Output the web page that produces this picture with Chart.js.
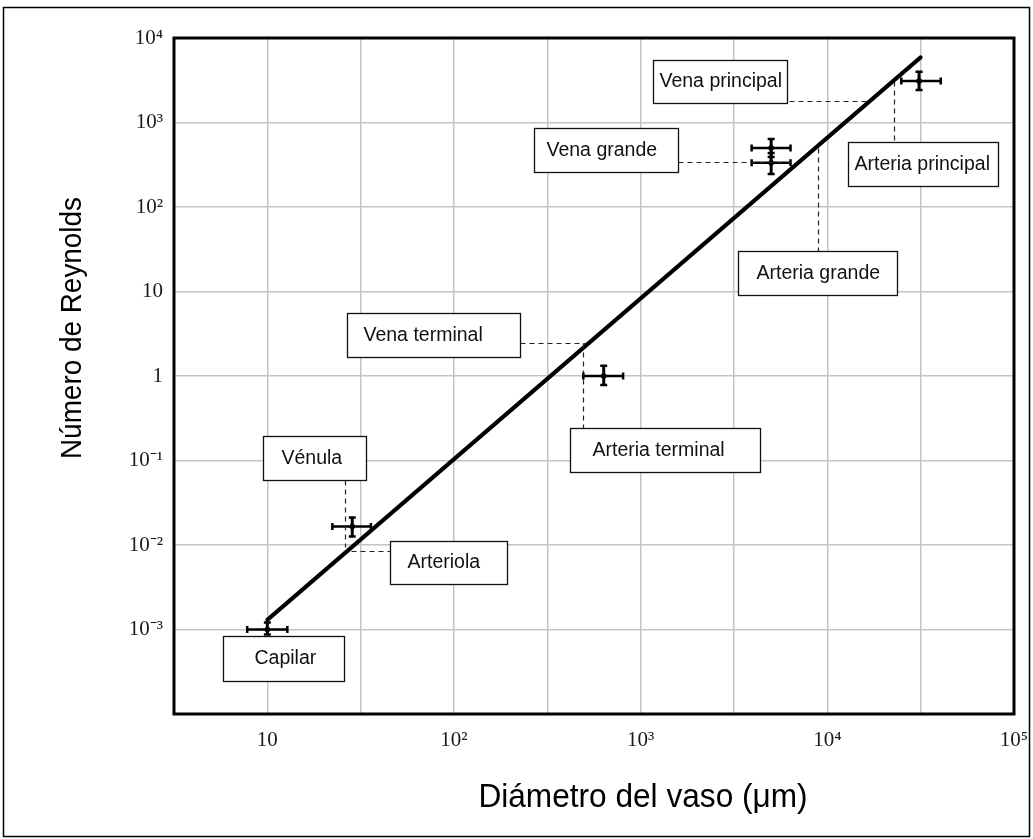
<!DOCTYPE html>
<html>
<head>
<meta charset="utf-8">
<script src="https://cdn.jsdelivr.net/npm/chart.js@4.4.1/dist/chart.umd.min.js"></script>
<style>
  html, body { margin: 0; padding: 0; background: #fff; }
  canvas { display: block; }
</style>
</head>
<body>
<canvas id="grafico" width="1033" height="839"></canvas>
<script>
// Vasos sanguíneos: diámetro (µm) frente al número de Reynolds, con barras de error
const diametro    = [10,    28.5,   634,  5000, 5000, 31000];
const diametroMin = [7.8,   22.3,   493,  3930, 3930, 24900];
const diametroMax = [12.8,  35.9,   805,  6350, 6350, 40500];
const reynolds    = [0.001, 0.0166, 1,    500,  333,  3100];
const reynoldsMin = [0.00087, 0.0126, 0.78, 391, 245, 2430];
const reynoldsMax = [0.00121, 0.0211, 1.32, 638, 436, 4000];

// Recta de ajuste (Re crece aproximadamente como d^1.9)
const ajusteDiametro = [10, 31600];
const ajusteReynolds = [0.0013, 5900];

// Marcas de los ejes: exponentes de 10 y sus rótulos
const exponentesX = [0.5, 1, 1.5, 2, 2.5, 3, 3.5, 4, 4.5, 5];
const rotulosX    = ['', '10', '', '10²', '', '10³', '', '10⁴', '', '10⁵'];
const exponentesY = [-4, -3, -2, -1, 0, 1, 2, 3, 4];
const rotulosY    = ['', '10⁻³', '10⁻²', '10⁻¹', '1', '10', '10²', '10³', '10⁴'];

// Nombres de los vasos que se rotulan en el gráfico
const rotulos = ['Capilar', 'Vénula', 'Arteriola', 'Vena terminal', 'Arteria terminal',
                 'Vena grande', 'Arteria grande', 'Vena principal', 'Arteria principal'];

// Cajas de los rótulos: centro en unidades de los ejes, tamaño y sangría del texto en px
const cajas = [
  { x: 12.25, y: 4.48e-4, w: 121, h: 45, sangria: 31 },
  { x: 17.97, y: 0.108,   w: 103, h: 44, sangria: 18 },
  { x: 93.9,  y: 0.00628, w: 117, h: 43, sangria: 17 },
  { x: 78.0,  y: 3.08,    w: 173, h: 44, sangria: 16 },
  { x: 1358,  y: 0.1344,  w: 190, h: 44, sangria: 22 },
  { x: 655.6, y: 474,     w: 144, h: 44, sangria: 12 },
  { x: 8808,  y: 16.65,   w: 159, h: 44, sangria: 18 },
  { x: 2677,  y: 3060,    w: 134, h: 43, sangria: 6 },
  { x: 32360, y: 323.6,   w: 150, h: 44, sangria: 6 }
];

// Líneas guía discontinuas entre cada caja y la recta: [x1, y1, x2, y2] en unidades de los ejes
const guias = [
  [6194, 1799, 16630, 1799],
  [22630, 3102, 22630, 589],
  [1594, 342, 6754, 342],
  [8862, 500, 8862, 30.3],
  [227, 2.475, 506, 2.475],
  [494, 2.475, 494, 0.2446],
  [26.2, 0.0594, 26.2, 0.00958],
  [28.2, 0.00859, 45.6, 0.00859]
];

const tituloX = 'Diámetro del vaso (μm)';
const tituloY = 'Número de Reynolds';

const SANS = '"Liberation Sans", Arial, sans-serif';
const SERIF = '"Liberation Serif", "Times New Roman", serif';

const puntos = diametro.map((d, i) => ({ x: d, y: reynolds[i] }));
const recta = ajusteDiametro.map((d, i) => ({ x: d, y: ajusteReynolds[i] }));

// Barras de error horizontales y verticales con sus topes
const barrasError = {
  id: 'barrasError',
  afterDatasetsDraw(chart) {
    const { ctx, scales: { x, y } } = chart;
    ctx.save();
    ctx.strokeStyle = '#000';
    ctx.lineCap = 'butt';
    const tope = 3.5;
    diametro.forEach((d, i) => {
      const cx = x.getPixelForValue(d);
      const cy = y.getPixelForValue(reynolds[i]);
      const x0 = x.getPixelForValue(diametroMin[i]);
      const x1 = x.getPixelForValue(diametroMax[i]);
      const y0 = y.getPixelForValue(reynoldsMin[i]);
      const y1 = y.getPixelForValue(reynoldsMax[i]);
      ctx.lineWidth = 2.5;
      ctx.beginPath();
      ctx.moveTo(x0, cy); ctx.lineTo(x1, cy);
      ctx.moveTo(x0, cy - tope); ctx.lineTo(x0, cy + tope);
      ctx.moveTo(x1, cy - tope); ctx.lineTo(x1, cy + tope);
      ctx.stroke();
      ctx.lineWidth = 3;
      ctx.beginPath();
      ctx.moveTo(cx, y0); ctx.lineTo(cx, y1);
      ctx.stroke();
      ctx.lineWidth = 2.5;
      ctx.beginPath();
      ctx.moveTo(cx - tope, y0); ctx.lineTo(cx + tope, y0);
      ctx.moveTo(cx - tope, y1); ctx.lineTo(cx + tope, y1);
      ctx.stroke();
    });
    ctx.restore();
  }
};

// Texto algo estrechado en horizontal, como en los títulos de los ejes
function textoEstrecho(ctx, texto, cx, cy, angulo, tam, escala) {
  ctx.save();
  ctx.translate(cx, cy);
  ctx.rotate(angulo);
  ctx.scale(escala, 1);
  ctx.font = tam + 'px ' + SANS;
  ctx.textAlign = 'center';
  ctx.textBaseline = 'middle';
  ctx.fillText(texto, 0, 0);
  ctx.restore();
}

// Marco grueso del área de trazado, rótulos en cajas, guías y títulos de los ejes
const decoracion = {
  id: 'decoracion',
  afterDraw(chart) {
    const { ctx, chartArea: a, scales: { x, y } } = chart;
    ctx.save();

    // borde fino de toda la figura
    ctx.strokeStyle = '#000';
    ctx.lineWidth = 1.5;
    ctx.strokeRect(3.5, 7.5, 1026, 829);

    // marco del área de trazado
    ctx.lineWidth = 3;
    ctx.strokeRect(a.left, a.top, a.right - a.left, a.bottom - a.top);

    // guías discontinuas
    ctx.lineWidth = 1.2;
    ctx.strokeStyle = '#222';
    ctx.setLineDash([5, 4]);
    guias.forEach(([x1, y1, x2, y2]) => {
      ctx.beginPath();
      ctx.moveTo(Math.round(x.getPixelForValue(x1)) + 0.5, Math.round(y.getPixelForValue(y1)) + 0.5);
      ctx.lineTo(Math.round(x.getPixelForValue(x2)) + 0.5, Math.round(y.getPixelForValue(y2)) + 0.5);
      ctx.stroke();
    });
    ctx.setLineDash([]);

    // cajas con texto
    ctx.font = '19.5px ' + SANS;
    ctx.textBaseline = 'middle';
    ctx.textAlign = 'left';
    cajas.forEach((c, i) => {
      const cx = x.getPixelForValue(c.x);
      const cy = y.getPixelForValue(c.y);
      const l = Math.round(cx - c.w / 2) + 0.5;
      const t = Math.round(cy - c.h / 2) + 0.5;
      ctx.fillStyle = '#fff';
      ctx.fillRect(l, t, c.w, c.h);
      ctx.strokeStyle = '#111';
      ctx.lineWidth = 1.3;
      ctx.strokeRect(l, t, c.w, c.h);
      ctx.fillStyle = '#111';
      ctx.fillText(rotulos[i], l + c.sangria, t + c.h / 2);
    });
    ctx.restore();

    // títulos de los ejes
    ctx.fillStyle = '#000';
    textoEstrecho(ctx, tituloX, 643, 798, 0, 34, 0.93);
    textoEstrecho(ctx, tituloY, 73, 328, -Math.PI / 2, 30, 0.93);
  }
};

const sinRelleno = (s) => { s.paddingLeft = 0; s.paddingRight = 0; s.paddingTop = 0; s.paddingBottom = 0; };

new Chart(document.getElementById('grafico'), {
  type: 'scatter',
  data: {
    datasets: [
      {
        label: 'Ajuste',
        data: recta,
        showLine: true,
        borderColor: '#000',
        borderWidth: 4,
        pointRadius: 0,
        pointHoverRadius: 0,
        borderCapStyle: 'round'
      },
      {
        label: 'Vasos',
        data: puntos,
        backgroundColor: '#000',
        borderColor: '#000',
        pointRadius: 2.5,
        pointHoverRadius: 2.5
      }
    ]
  },
  options: {
    responsive: false,
    animation: false,
    events: [],
    layout: { padding: { left: 0, top: 38, right: 19, bottom: 0 } },
    plugins: { legend: { display: false }, tooltip: { enabled: false }, title: { display: false } },
    scales: {
      x: {
        type: 'logarithmic',
        min: Math.pow(10, exponentesX[0]),
        max: Math.pow(10, exponentesX[exponentesX.length - 1]),
        afterBuildTicks: (s) => { s.ticks = exponentesX.map(e => ({ value: Math.pow(10, e) })); },
        afterFit: (s) => { s.height = 125; sinRelleno(s); },
        ticks: {
          autoSkip: false,
          maxRotation: 0,
          padding: 14,
          color: '#1a1a1a',
          font: { family: SERIF, size: 21 },
          callback: (v, i) => rotulosX[i]
        },
        grid: { color: '#c4c4c4', lineWidth: 1.5, drawTicks: false },
        border: { display: false }
      },
      y: {
        type: 'logarithmic',
        min: Math.pow(10, exponentesY[0]),
        max: Math.pow(10, exponentesY[exponentesY.length - 1]),
        afterBuildTicks: (s) => { s.ticks = exponentesY.map(e => ({ value: Math.pow(10, e) })); },
        afterFit: (s) => { s.width = 174; sinRelleno(s); },
        ticks: {
          autoSkip: false,
          padding: 11,
          color: '#1a1a1a',
          font: { family: SERIF, size: 21 },
          callback: (v, i) => rotulosY[i]
        },
        grid: { color: '#c4c4c4', lineWidth: 1.5, drawTicks: false },
        border: { display: false }
      }
    }
  },
  plugins: [barrasError, decoracion]
});
</script>
</body>
</html>
